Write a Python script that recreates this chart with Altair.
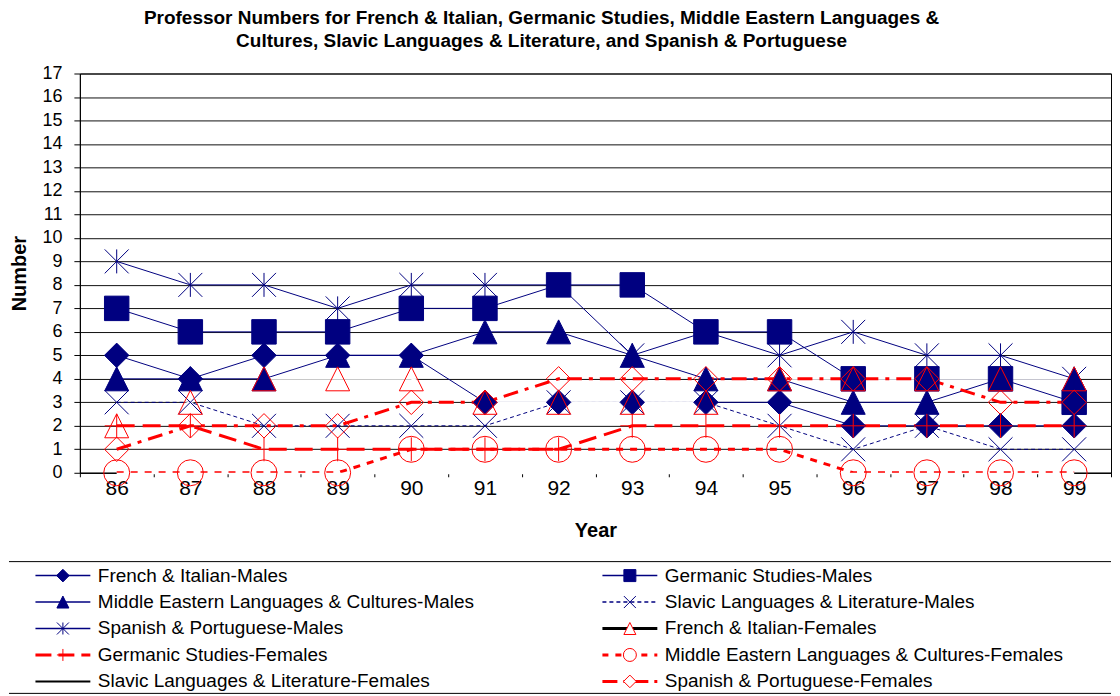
import altair as alt
import pandas as pd

# ---------------- data ----------------
years = ["86", "87", "88", "89", "90", "91", "92", "93", "94", "95", "96", "97", "98", "99"]

series_names = [
    "French & Italian-Males",
    "Germanic Studies-Males",
    "Middle Eastern Languages & Cultures-Males",
    "Slavic Languages & Literature-Males",
    "Spanish & Portuguese-Males",
    "French & Italian-Females",
    "Germanic Studies-Females",
    "Middle Eastern Languages & Cultures-Females",
    "Slavic Languages & Literature-Females",
    "Spanish & Portuguese-Females",
]

fi_males = [5, 4, 5, 5, 5, 3, 3, 3, 3, 3, 2, 2, 2, 2]
gs_males = [7, 6, 6, 6, 7, 7, 8, 8, 6, 6, 4, 4, 4, 3]
me_males = [4, 4, 4, 5, 5, 6, 6, 5, 4, 4, 3, 3, 4, 4]
sl_males = [3, 3, 2, 2, 2, 2, 3, 3, 3, 2, 1, 2, 1, 1]
sp_males = [9, 8, 8, 7, 8, 8, 8, 5, 6, 5, 6, 5, 5, 4]
fi_females = [2, 3, 4, 4, 4, 3, 3, 3, 3, 4, 4, 4, 4, 4]
gs_females = [2, 2, 1, 1, 1, 1, 1, 2, 2, 2, 2, 2, 2, 2]
me_females = [0, 0, 0, 0, 1, 1, 1, 1, 1, 1, 0, 0, 0, 0]
sl_females = [0, 0, 0, 0, 0, 0, 0, 0, 0, 0, 0, 0, 0, 0]
sp_females = [1, 2, 2, 2, 3, 3, 4, 4, 4, 4, 4, 4, 3, 3]

values_by_series = [fi_males, gs_males, me_males, sl_males, sp_males,
                    fi_females, gs_females, me_females, sl_females, sp_females]

title_lines = [
    "Professor Numbers for French & Italian, Germanic Studies, Middle Eastern Languages &",
    "Cultures, Slavic Languages & Literature, and Spanish & Portuguese",
]

# ---------------- styles ----------------
NAVY = "#000080"
RED = "#FF0000"
TRI = "M0,-1L1,1L-1,1Z"
XSHAPE = "M-1,-1L1,1M-1,1L1,-1"
ASTER = "M-1,-1L1,1M-1,1L1,-1M0,-1L0,1"
PLUS = "M-1,0L1,0M0,-1L0,1"
SEG = "M-1,0L1,0"
FONT = "Liberation Sans"

S = series_names
# plot line styles: stroke, width, dash, clip
line_style = {
    S[0]: (NAVY, 1, None, True),
    S[1]: (NAVY, 1, None, True),
    S[2]: (NAVY, 1, None, True),
    S[3]: (NAVY, 1, [4, 3], True),
    S[4]: (NAVY, 1, None, True),
    S[5]: ("white", 2, None, True),
    S[8]: ("white", 3, None, False),
    S[6]: (RED, 3, [18, 8], True),
    S[7]: (RED, 3, [7, 7], True),
    S[9]: (RED, 3, [15, 7, 4, 7], True),
}
line_order = [S[0], S[1], S[2], S[3], S[4], S[5], S[8], S[6], S[7], S[9]]

# markers: shape, filled, color, plot size, legend size
marker_style = {
    S[0]: ("diamond", True, NAVY, 600, 160),
    S[1]: ("square", True, NAVY, 600, 144),
    S[2]: (TRI, True, NAVY, 576, 144),
    S[3]: (XSHAPE, False, NAVY, 576, 144),
    S[4]: (ASTER, False, NAVY, 576, 144),
    S[5]: (TRI, False, RED, 576, 144),
    S[6]: (PLUS, False, RED, 576, 144),
    S[7]: ("circle", False, RED, 676, 169),
    S[9]: ("diamond", False, RED, 600, 160),
}
marker_order = [S[0], S[1], S[2], S[3], S[4], S[5], S[6], S[7], S[9]]

# legend line keys: stroke, width, dash
legend_line = {
    S[0]: (NAVY, 1.5, None),
    S[1]: (NAVY, 1.5, None),
    S[2]: (NAVY, 1.5, None),
    S[3]: (NAVY, 1.5, [4, 3]),
    S[4]: (NAVY, 1.5, None),
    S[5]: ("black", 3, None),
    S[6]: (RED, 3, [16, 7]),
    S[7]: (RED, 3, [6, 7]),
    S[8]: ("black", 2, None),
    S[9]: (RED, 3, [15, 6, 4, 6]),
}

# ---------------- tables ----------------
rows = []
for name, vals in zip(series_names, values_by_series):
    for yr, v in zip(years, vals):
        rows.append({"series": name, "year": yr, "value": v})
df = pd.DataFrame(rows)

leg_df = pd.DataFrame({
    "series": series_names,
    "col": [i % 2 for i in range(len(series_names))],
    "row": [i // 2 for i in range(len(series_names))],
})

# ---------------- main plot ----------------
x_enc = alt.X(
    "year:O", sort=years,
    scale=alt.Scale(type="band", domain=years, paddingInner=0, paddingOuter=0),
    axis=alt.Axis(title="Year", labelAngle=0, tickBand="extent", tickSize=4,
                  labelFontSize=21, labelPadding=1, titleFontSize=20,
                  titleFontWeight="bold", titlePadding=22, grid=False),
)
y_enc = alt.Y(
    "value:Q",
    scale=alt.Scale(domain=[0, 17], nice=False),
    axis=alt.Axis(title="Number", values=list(range(18)), tickSize=6,
                  labelFontSize=18, labelPadding=12, titleFontSize=20,
                  titleFontWeight="bold", titlePadding=12, grid=True,
                  gridColor="#111111", gridWidth=1),
)

base = alt.Chart(df).encode(x=x_enc, y=y_enc)

layers = []
for name in line_order:
    stroke, width, dash, clip = line_style[name]
    kw = dict(stroke=stroke, strokeWidth=width, clip=clip)
    if dash:
        kw["strokeDash"] = dash
    layers.append(base.transform_filter(alt.datum.series == name).mark_line(**kw))

for name in marker_order:
    shape, filled, color, size, _ = marker_style[name]
    kw = dict(shape=shape, size=size, filled=filled, stroke=color,
              strokeWidth=1, opacity=1)
    if filled:
        kw["fill"] = color
    layers.append(base.transform_filter(alt.datum.series == name).mark_point(**kw))

plot = alt.layer(*layers).properties(
    width=1033,
    height=400,
    title=alt.TitleParams(
        text=title_lines, fontSize=19, fontWeight="bold", font=FONT,
        anchor="middle", dx=-54, offset=14, lineHeight=22.5, color="black",
    ),
)

# ---------------- legend ----------------
leg_x = alt.X("col:Q", scale=alt.Scale(domain=[0, 1], range=[-17, 551]), axis=None)
leg_y = alt.Y("row:Q", scale=alt.Scale(domain=[0, 4], range=[14, 120]), axis=None)
leg_base = alt.Chart(leg_df).encode(x=leg_x, y=leg_y)

leg_layers = []
one = pd.DataFrame({"k": [0]})
leg_layers.append(alt.Chart(one).mark_rule(color="black", strokeWidth=1).encode(
    x=alt.value(-71), x2=alt.value(1033), y=alt.value(0)))
leg_layers.append(alt.Chart(one).mark_rule(color="black", strokeWidth=1).encode(
    x=alt.value(-71), x2=alt.value(1033), y=alt.value(132)))

for name in series_names:
    stroke, width, dash = legend_line[name]
    kw = dict(shape=SEG, size=3025, filled=False, stroke=stroke,
              strokeWidth=width, opacity=1)
    if dash:
        kw["strokeDash"] = dash
    leg_layers.append(leg_base.transform_filter(alt.datum.series == name).mark_point(**kw))
    if name in marker_style:
        shape, filled, color, _, lsize = marker_style[name]
        mkw = dict(shape=shape, size=lsize, filled=filled, stroke=color,
                   strokeWidth=1, opacity=1)
        mkw["fill"] = color if filled else "white"
        leg_layers.append(leg_base.transform_filter(alt.datum.series == name).mark_point(**mkw))

leg_layers.append(leg_base.mark_text(align="left", baseline="middle", dx=35,
                                     fontSize=19, font=FONT, color="black")
                  .encode(text="series:N"))

legend = alt.layer(*leg_layers).properties(
    width=1033, height=132,
    view=alt.ViewBackground(stroke="transparent"),
)

chart = (
    alt.vconcat(plot, legend, spacing=89, bounds="flush")
    .properties(padding={"left": 0, "top": 0, "right": 0, "bottom": 0})
    .configure(font=FONT, background="white")
    .configure_view(stroke="black", strokeWidth=1)
    .configure_axis(labelColor="black", titleColor="black", domainColor="black",
                    tickColor="black", labelFont=FONT, titleFont=FONT)
)

chart.save("out.html", embed_options={"renderer": "svg", "actions": False})
